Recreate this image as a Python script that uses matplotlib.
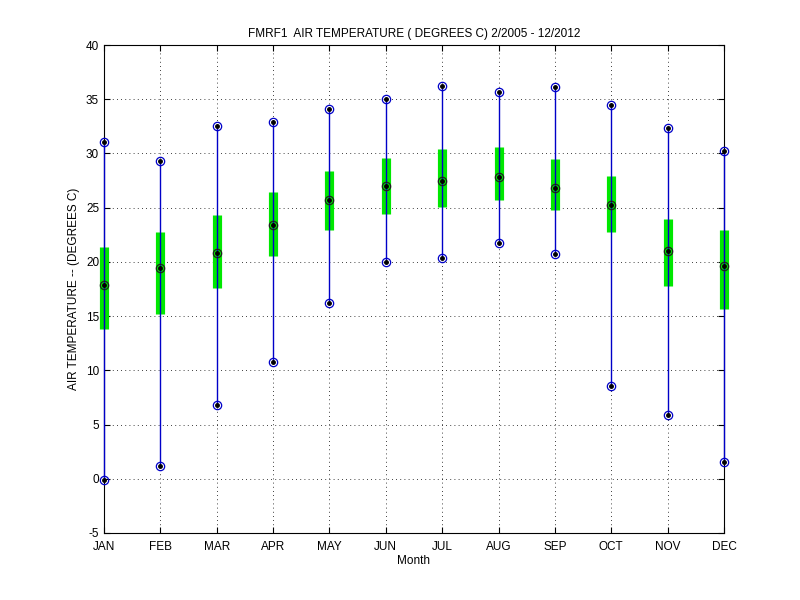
import matplotlib
matplotlib.use("Agg")
from matplotlib import pyplot as plt

plt.rcParams['font.family'] = ['Liberation Sans', 'DejaVu Sans']
plt.rcParams['axes.unicode_minus'] = False

months = ["JAN", "FEB", "MAR", "APR", "MAY", "JUN",
          "JUL", "AUG", "SEP", "OCT", "NOV", "DEC"]
t_max = [31.1, 29.3, 32.5, 32.9, 34.1, 35.0, 36.2, 35.7, 36.1, 34.5, 32.3, 30.2]
t_min = [-0.1, 1.2, 6.8, 10.8, 16.2, 20.0, 20.4, 21.7, 20.7, 8.6, 5.9, 1.5]
t_mean = [17.9, 19.4, 20.8, 23.4, 25.7, 27.0, 27.5, 27.8, 26.8, 25.2, 21.0, 19.6]
box_lo = [13.8, 15.2, 17.6, 20.5, 22.9, 24.4, 25.1, 25.7, 24.8, 22.8, 17.8, 15.7]
box_hi = [21.4, 22.8, 24.3, 26.4, 28.4, 29.6, 30.4, 30.6, 29.5, 27.9, 24.0, 22.9]

x = list(range(1, len(months) + 1))

fig = plt.figure(figsize=(8, 6), dpi=100)
ax = fig.add_axes([0.13, 0.1117, 0.775, 0.8133])

# green std boxes as thick lines, blue range line on top
ax.vlines(x, box_lo, box_hi, color="#00e800", linewidth=6.6, clip_on=False, zorder=2)
ax.vlines(x, t_min, t_max, color="#0000c8", linewidth=1.0, clip_on=False, zorder=3)

for vals, col in [(t_max, "#0000c8"), (t_min, "#0000c8"), (t_mean, "#202020")]:
    ax.plot(x, vals, linestyle="none", marker="o", markersize=6,
            markerfacecolor="none", markeredgecolor=col, markeredgewidth=0.9,
            clip_on=False, zorder=4)
    ax.plot(x, vals, linestyle="none", marker=".", markersize=5,
            color="black", clip_on=False, zorder=5)

ax.set_xlim(1, 12)
ax.set_ylim(-5, 40)
ax.set_xticks(x)
ax.set_xticklabels(months)
ax.set_yticks(range(-5, 41, 5))
ax.grid(True, color="black", linestyle=(0, (1, 4)), linewidth=0.6)
ax.tick_params(direction="in", labelsize=8.5, length=4, top=True, right=True)
ax.tick_params(axis="x", pad=6)

ax.set_title("FMRF1  AIR TEMPERATURE ( DEGREES C) 2/2005 - 12/2012", fontsize=8.5)
ax.set_xlabel("Month", fontsize=8.5, labelpad=1)
ax.set_ylabel("AIR TEMPERATURE -- (DEGREES C)", fontsize=8.5)

fig.savefig("out.png", dpi=100)
